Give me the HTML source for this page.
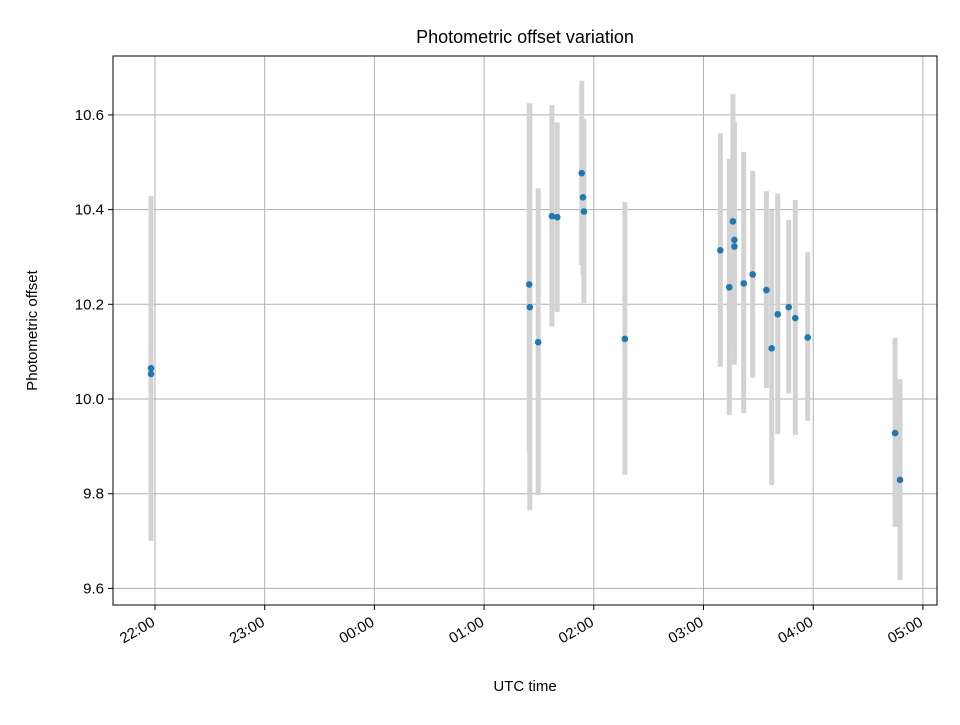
<!DOCTYPE html>
<html><head><meta charset="utf-8"><style>
body{margin:0;background:#fff;font-family:"Liberation Sans","DejaVu Sans",sans-serif}
</style></head><body>
<svg id="c" width="960" height="720" xmlns="http://www.w3.org/2000/svg"></svg>
<script>
const minutesSince2200=[-2.2,-2.2,204.7,205.0,209.6,217.1,220.0,233.4,234.1,234.6,257.0,309.2,314.1,316.1,316.9,316.9,322.0,326.9,334.4,337.3,340.6,346.6,350.2,357.0,404.8,407.5];
const offsetValues=[10.065,10.053,10.242,10.194,10.120,10.386,10.384,10.477,10.426,10.396,10.127,10.314,10.236,10.375,10.336,10.322,10.244,10.263,10.230,10.107,10.179,10.194,10.171,10.130,9.928,9.829];
const errLow=[9.702,9.700,9.886,9.765,9.797,10.153,10.184,10.283,10.262,10.203,9.840,10.068,9.966,10.110,10.072,10.080,9.970,10.045,10.023,9.818,9.926,10.012,9.924,9.954,9.730,9.618];
const errHigh=[10.429,10.420,10.625,10.623,10.445,10.621,10.584,10.672,10.591,10.591,10.416,10.561,10.507,10.644,10.586,10.580,10.522,10.482,10.439,10.399,10.434,10.378,10.420,10.310,10.129,10.042];
const yTicks=[9.6,9.8,10.0,10.2,10.4,10.6];
const xTickMinutes=[0,60,120,180,240,300,360,420];
const xTickLabels=["22:00","23:00","00:00","01:00","02:00","03:00","04:00","05:00"];

const L=113,R=937,T=56,B=605;
const xs=m=>155+m*109.7/60;
const ys=v=>399-(v-10.0)*473.5;
const svg=document.getElementById('c');
const NS='http://www.w3.org/2000/svg';
function mk(tag,attrs,parent){const e=document.createElementNS(NS,tag);for(const k in attrs)e.setAttribute(k,attrs[k]);(parent||svg).appendChild(e);return e;}

const grid=mk('g',{});


xTickMinutes.forEach((m,i)=>{
  const x=xs(m);
  const g=mk('line',{x1:x,x2:x,y1:T,y2:B,stroke:'#b0b0b0','stroke-width':1},grid);
  
  
  const t=mk('line',{x1:x,x2:x,y1:B,y2:B+5,stroke:'#000'});
  
  
  const ax=x+1, ay=B+20;
  const lb=mk('text',{x:ax,y:ay,'font-size':15,'text-anchor':'end',transform:`rotate(-30 ${ax} ${ay})`});
  
  
  lb.textContent=xTickLabels[i];
});
yTicks.forEach(v=>{
  const y=ys(v);
  const g=mk('line',{x1:L,x2:R,y1:y,y2:y,stroke:'#b0b0b0','stroke-width':1},grid);
  
  
  const t=mk('line',{x1:L-5,x2:L,y1:y,y2:y,stroke:'#000'});
  
  
  const lb=mk('text',{x:L-9,y:y+5,'font-size':15,'text-anchor':'end'});
  
  
  lb.textContent=v.toFixed(1);
});
const bars=mk('g',{});


minutesSince2200.forEach((m,i)=>{
  const e=mk('line',{x1:xs(m),x2:xs(m),y1:ys(errHigh[i]),y2:ys(errLow[i]),stroke:'#d3d3d3','stroke-width':5},bars);
  
  
});
const pts=mk('g',{});


minutesSince2200.forEach((m,i)=>{
  const c=mk('circle',{cx:xs(m),cy:ys(offsetValues[i]),r:3.3,fill:'#1f77b4'},pts);
  
  
});
const fr=mk('rect',{x:L,y:T,width:R-L,height:B-T,fill:'none',stroke:'#000','stroke-width':1});


const ti=mk('text',{x:(L+R)/2,y:43,'font-size':18,'text-anchor':'middle'});


ti.textContent='Photometric offset variation';
const xl=mk('text',{x:(L+R)/2,y:691,'font-size':15,'text-anchor':'middle'});


xl.textContent='UTC time';
const yl=mk('text',{x:37,y:(T+B)/2,'font-size':15,'text-anchor':'middle',transform:`rotate(-90 37 ${(T+B)/2})`});


yl.textContent='Photometric offset';
</script>
</body></html>
